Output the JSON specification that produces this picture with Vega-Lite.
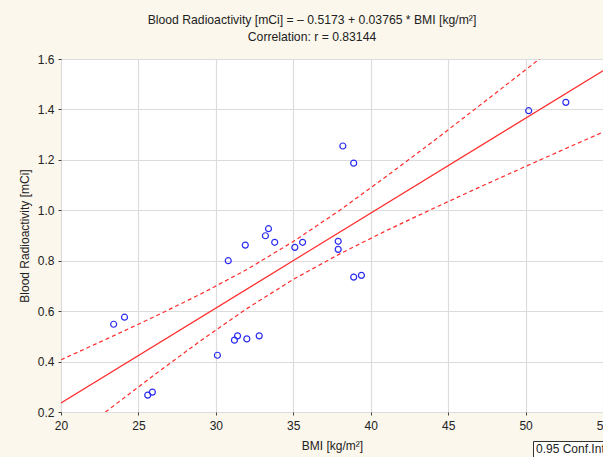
{
  "$schema": "https://vega.github.io/schema/vega-lite/v6.json",
  "width": 542,
  "height": 353,
  "autosize": {"type": "none"},
  "padding": {"left": 61, "top": 59, "right": 0, "bottom": 45},
  "background": "#fbf7ec",
  "config": {
    "font": "Liberation Sans",
    "view": {"fill": "white", "stroke": "#3a3a3a", "strokeWidth": 1},
    "axis": {
      "labelFont": "Liberation Sans",
      "titleFont": "Liberation Sans",
      "labelFontSize": 12,
      "titleFontSize": 12,
      "titleFontWeight": "normal",
      "labelColor": "#222",
      "titleColor": "#222",
      "gridColor": "#dcdcdc",
      "gridWidth": 1.2,
      "domain": false,
      "tickColor": "#444",
      "tickSize": 3
    }
  },
  "title": {
    "text": ["Blood Radioactivity [mCi] = – 0.5173 + 0.03765 * BMI [kg/m²]", "Correlation: r = 0.83144"],
    "font": "Liberation Sans",
    "fontSize": 12.2,
    "fontWeight": "normal",
    "color": "#222",
    "anchor": "middle",
    "dx": -20,
    "offset": 10,
    "lineHeight": 17
  },
  "datasets": {
    "points": [
      {"bmi": 23.4, "rad": 0.548},
      {"bmi": 24.1, "rad": 0.576},
      {"bmi": 25.6, "rad": 0.267},
      {"bmi": 25.9, "rad": 0.279},
      {"bmi": 30.1, "rad": 0.425},
      {"bmi": 30.8, "rad": 0.800},
      {"bmi": 31.2, "rad": 0.485},
      {"bmi": 31.4, "rad": 0.502},
      {"bmi": 32.0, "rad": 0.490},
      {"bmi": 32.8, "rad": 0.502},
      {"bmi": 31.9, "rad": 0.862},
      {"bmi": 33.4, "rad": 0.927},
      {"bmi": 33.2, "rad": 0.899},
      {"bmi": 33.8, "rad": 0.873},
      {"bmi": 35.1, "rad": 0.853},
      {"bmi": 35.6, "rad": 0.873},
      {"bmi": 37.9, "rad": 0.877},
      {"bmi": 37.9, "rad": 0.845},
      {"bmi": 38.9, "rad": 0.735},
      {"bmi": 39.4, "rad": 0.742},
      {"bmi": 38.2, "rad": 1.255},
      {"bmi": 38.9, "rad": 1.187},
      {"bmi": 50.2, "rad": 1.395},
      {"bmi": 52.6, "rad": 1.428}
    ],
    "fit": [
      {"bmi": 20, "rad": 0.2357},
      {"bmi": 55, "rad": 1.5535}
    ],
    "bands": [
      {"band": "upper", "ci": "ci", "bmi": 20, "rad": 0.407},
      {"band": "upper", "ci": "ci", "bmi": 23, "rad": 0.491},
      {"band": "upper", "ci": "ci", "bmi": 26, "rad": 0.577},
      {"band": "upper", "ci": "ci", "bmi": 29, "rad": 0.667},
      {"band": "upper", "ci": "ci", "bmi": 32, "rad": 0.765},
      {"band": "upper", "ci": "ci", "bmi": 35, "rad": 0.876},
      {"band": "upper", "ci": "ci", "bmi": 38, "rad": 1.000},
      {"band": "upper", "ci": "ci", "bmi": 41, "rad": 1.134},
      {"band": "upper", "ci": "ci", "bmi": 44, "rad": 1.272},
      {"band": "upper", "ci": "ci", "bmi": 47, "rad": 1.414},
      {"band": "upper", "ci": "ci", "bmi": 50, "rad": 1.557},
      {"band": "upper", "ci": "ci", "bmi": 53, "rad": 1.701},
      {"band": "lower", "ci": "ci", "bmi": 20, "rad": 0.064},
      {"band": "lower", "ci": "ci", "bmi": 23, "rad": 0.206},
      {"band": "lower", "ci": "ci", "bmi": 26, "rad": 0.346},
      {"band": "lower", "ci": "ci", "bmi": 29, "rad": 0.482},
      {"band": "lower", "ci": "ci", "bmi": 32, "rad": 0.610},
      {"band": "lower", "ci": "ci", "bmi": 35, "rad": 0.726},
      {"band": "lower", "ci": "ci", "bmi": 38, "rad": 0.827},
      {"band": "lower", "ci": "ci", "bmi": 41, "rad": 0.919},
      {"band": "lower", "ci": "ci", "bmi": 44, "rad": 1.006},
      {"band": "lower", "ci": "ci", "bmi": 47, "rad": 1.091},
      {"band": "lower", "ci": "ci", "bmi": 50, "rad": 1.174},
      {"band": "lower", "ci": "ci", "bmi": 53, "rad": 1.256},
      {"band": "lower", "ci": "ci", "bmi": 55, "rad": 1.310}
    ]
  },
  "encoding": {
    "x": {
      "field": "bmi", "type": "quantitative",
      "scale": {"domain": [20, 55], "nice": false, "zero": false},
      "axis": {"title": "BMI [kg/m²]", "values": [20, 25, 30, 35, 40, 45, 50, 55], "format": "d", "labelFlush": false, "labelPadding": 5, "titlePadding": 9}
    },
    "y": {
      "field": "rad", "type": "quantitative",
      "scale": {"domain": [0.2, 1.6], "nice": false, "zero": false},
      "axis": {"title": "Blood Radioactivity [mCi]", "values": [0.2, 0.4, 0.6, 0.8, 1.0, 1.2, 1.4, 1.6], "format": ".1f", "labelFlush": false, "labelPadding": 4, "titlePadding": 6}
    }
  },
  "layer": [
    {
      "data": {"name": "bands"},
      "mark": {"type": "line", "clip": true, "color": "#ff2a2a", "strokeWidth": 1.2},
      "encoding": {
        "detail": {"field": "band"},
        "strokeDash": {
          "field": "ci", "type": "nominal",
          "scale": {"range": [[4, 3]]},
          "legend": {
            "title": "0.95 Conf.Int.",
            "titleFont": "Liberation Sans",
            "titleFontSize": 12,
            "titleFontWeight": "normal",
            "titleColor": "#222",
            "titleLimit": 300,
            "titlePadding": 0,
            "labelExpr": "''",
            "labelFontSize": 1,
            "labelOpacity": 0,
            "orient": "none",
            "legendX": 472,
            "legendY": 382,
            "symbolType": "stroke",
            "symbolSize": 0,
            "symbolStrokeWidth": 0,
            "symbolOpacity": 0,
            "padding": 3,
            "strokeColor": "#333",
            "fillColor": "white"
          }
        }
      }
    },
    {
      "data": {"name": "fit"},
      "mark": {"type": "line", "clip": true, "color": "#ff2a2a", "strokeWidth": 1.2}
    },
    {
      "data": {"name": "points"},
      "mark": {"type": "point", "shape": "circle", "filled": false, "color": "#2b2bf0", "size": 36, "strokeWidth": 1.2, "opacity": 1}
    }
  ]
}
